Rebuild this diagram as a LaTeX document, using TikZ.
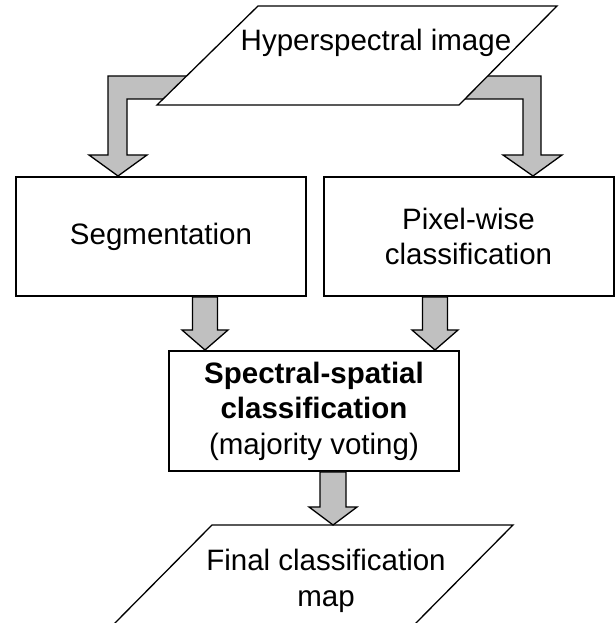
\documentclass[tikz,border=0pt]{standalone}
\usepackage{fontspec}
\setmainfont{Liberation Sans}
\usetikzlibrary{arrows.meta, calc}

\definecolor{arrowgray}{RGB}{192,192,192}

% wide grey arrow pointing down: shaft x, start, tip,
% half shaft width, half head width, head length
\newcommand{\blockdown}[6]{%
  \draw[blockarr] let \p1 = (#2), \p2 = (#3) in
    (#1pt-#4pt, \y1) -- (#1pt+#4pt, \y1) -- (#1pt+#4pt, \y2+#6pt)
    -- (#1pt+#5pt, \y2+#6pt) -- (#1pt, \y2) -- (#1pt-#5pt, \y2+#6pt)
    -- (#1pt-#4pt, \y2+#6pt) -- cycle;}

\begin{document}
\begin{tikzpicture}[>=Stealth, x=1pt, y=1pt,
    font=\fontsize{29.5}{35.4}\selectfont,
    box/.style={draw, line width=2pt, minimum width=290pt,
                minimum height=119pt, inner sep=0pt, align=center},
    blockarr/.style={draw, line width=1.3pt, fill=arrowgray, line join=miter},
    para/.style={draw, line width=1.3pt, fill=white}]
  \useasboundingbox (0,0) rectangle (615,623);

  % Processing boxes
  \node[box] (seg) at (161,386.5) {Segmentation};
  \node[box] (pix) at (468.5,386.5) {Pixel-wise\\classification};
  \node[box, minimum height=120pt] (ssc) at (314,212)
    {\textbf{Spectral-spatial}\\\textbf{classification}\\(majority voting)};

  % Arrows from the image to both branches
  \draw[blockarr] let \p1 = (seg.north) in
    (220pt,547pt) -- (108pt,547pt) -- (108pt,\y1+21pt) -- (89pt,\y1+21pt)
    -- (118pt,\y1) -- (147pt,\y1+21pt) -- (127pt,\y1+21pt) -- (127pt,524pt)
    -- (220pt,524pt) -- cycle;
  \draw[blockarr] let \p1 = (pix.north) in
    (420pt,547pt) -- (541pt,547pt) -- (541pt,\y1+21pt) -- (562pt,\y1+21pt)
    -- (533pt,\y1) -- (503pt,\y1+21pt) -- (523pt,\y1+21pt) -- (523pt,524pt)
    -- (420pt,524pt) -- cycle;

  % Input image
  \draw[para] (157,518) -- (459,518) -- (557,617) -- (258,617) -- cycle;
  \node[anchor=base] (hsi) at (376,572) {Hyperspectral image};

  % Output map
  \draw[para] (113,-2) -- (414,-2) -- (513,98) -- (212,98) -- cycle;
  \coordinate (maptop) at (333,98);
  \node[align=center] (map) at (326,42) {Final classification\\map};

  % Arrows into and out of the voting step
  \blockdown{205}{seg.south}{ssc.north}{12.5}{23}{20}
  \blockdown{435}{pix.south}{ssc.north}{12.5}{23}{20}
  \blockdown{333}{ssc.south}{maptop}{13}{24}{18}
\end{tikzpicture}
\end{document}
